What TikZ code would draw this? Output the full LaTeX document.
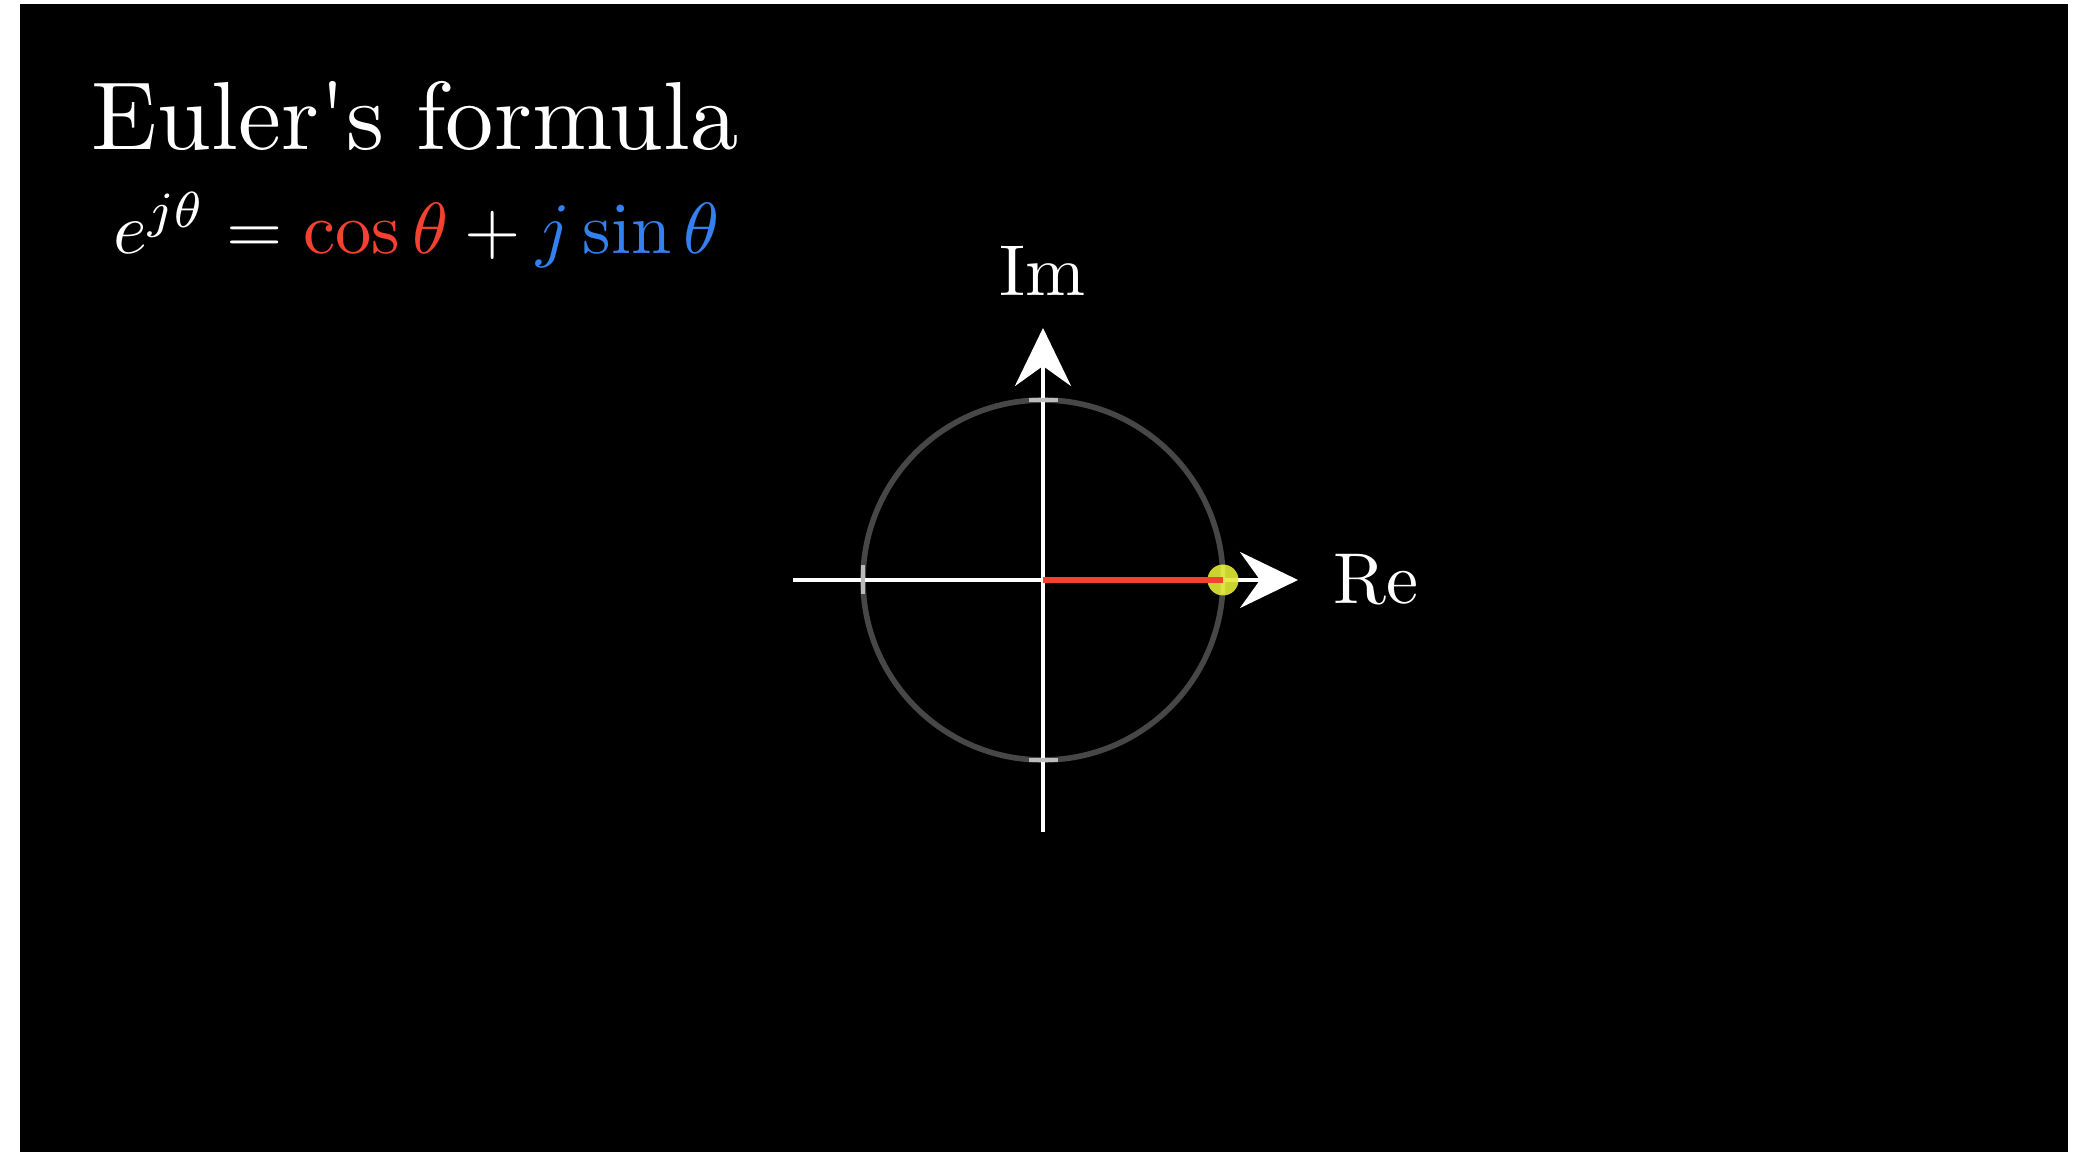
\documentclass[tikz,border=0pt]{standalone}
\usepackage{amsmath}
\usetikzlibrary{arrows.meta,positioning}
\definecolor{cosred}{HTML}{F5412F}
\definecolor{sinblue}{HTML}{3381F0}
\definecolor{dotyellow}{HTML}{E0EB36}
\definecolor{circlegray}{HTML}{474747}
\definecolor{tickgray}{HTML}{BBBBBB}
\tikzset{
  axisline/.style={white,line width=1.3pt,-{Stealth[length=5.8mm,width=5.6mm,inset=2mm]}},
  unitcircle/.style={circlegray,line width=1.6pt},
  tickmark/.style={tickgray,line width=0.9pt},
  cosline/.style={cosred,line width=1.5pt},
  biglabel/.style={white,inner sep=0,font=\normalsize,scale=2.05}
}
\begin{document}
\begin{tikzpicture}[x=1cm,y=1cm]
        \useasboundingbox (-10.43,-5.72) rectangle (10.39,5.80);
        \fill[white] (-10.43,-5.72) rectangle (10.39,5.80);
        \fill[black] (-10.23,-5.72) rectangle (10.25,5.76);
        % axes and unit circle
        \coordinate (o) at (0,0);
        \coordinate (xl) at (-2.5,0);
        \coordinate (xtip) at (2.55,0);
        \coordinate (yb) at (0,-2.52);
        \coordinate (ytip) at (0,2.52);
        \draw[unitcircle] (o) circle (1.8);
        \draw[axisline] (xl) -- (xtip);
        \draw[axisline] (yb) -- (ytip);
        \foreach \t in {-1.8,1.8} {
            \draw[tickmark] (\t,-0.145) -- (\t,0.145);
            \draw[tickmark] (-0.145,\t) -- (0.145,\t);
        }
        \node[circle,fill=dotyellow,fill opacity=0.9,minimum size=0.31cm,inner sep=0] (dot) at (1.8,0) {};
        \draw[cosline] (o) -- (dot.center);
        \node[biglabel,right=0.34cm of xtip] (re) {Re};
        \node[biglabel,above=0.31cm of ytip] (im) {Im};
        % title and formula
        \node[anchor=base west,inner sep=0,white,font=\normalsize,scale=2.75] (title) at (-9.53,4.30) {Euler\textquotesingle s formula};
        \node[anchor=base west,inner sep=0,white,font=\normalsize,scale=2.06] (euler) at (-9.31,3.26)
            {$e^{j\theta} = \textcolor{cosred}{\cos\theta} + \textcolor{sinblue}{j\sin\theta}$};
    \end{tikzpicture}
\end{document}
